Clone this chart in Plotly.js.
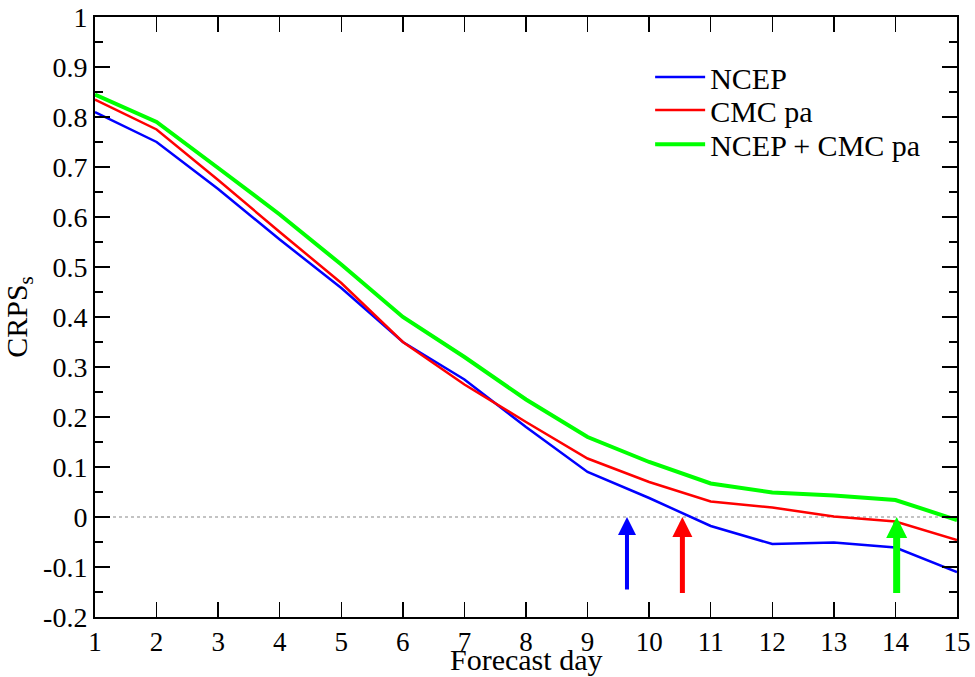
<!DOCTYPE html>
<html>
<head>
<meta charset="utf-8">
<script src="https://cdn.plot.ly/plotly-3.0.1.min.js"></script>
<style>html,body{margin:0;padding:0;background:#fff;}#chart{width:975px;height:677px;}</style>
</head>
<body>
<div id="chart"></div>
<script>
const days = [1,2,3,4,5,6,7,8,9,10,11,12,13,14,15];
const ncep = [0.81,0.75,0.656,0.555,0.458,0.35,0.275,0.18,0.09,0.038,-0.018,-0.054,-0.051,-0.061,-0.11];
const cmc = [0.835,0.775,0.674,0.57,0.468,0.35,0.265,0.19,0.117,0.07,0.031,0.019,0.001,-0.009,-0.046];
const combo = [0.845,0.79,0.698,0.605,0.505,0.40,0.32,0.235,0.16,0.11,0.067,0.049,0.043,0.034,-0.006];
const seriesNames = ['NCEP','CMC pa','NCEP + CMC pa'];
const arrowDays = [9.64, 10.54, 14.02];
const arrowBottom = [-0.148, -0.155, -0.155];
const yTickVals = [-0.2,-0.1,0,0.1,0.2,0.3,0.4,0.5,0.6,0.7,0.8,0.9,1];
const yTickText = ['-0.2','-0.1','0','0.1','0.2','0.3','0.4','0.5','0.6','0.7','0.8','0.9','1'];

const colors = ['#0000ff','#ff0000','#00ff00'];
const widths = [2.5,2.5,4];
const arrowWidths = [4,5,7];
const arrowSizes = [0.9,0.8,0.6];
const vals = [ncep, cmc, combo];
const legendIds = ['legend','legend2','legend3'];
const legendY = [0.9, 0.845, 0.788];

const FONT = 'Liberation Serif';
const traces = vals.map((v,i)=>({
  x: days, y: v, type:'scatter', mode:'lines', name: seriesNames[i],
  line:{color:colors[i], width:widths[i]}, legend: legendIds[i]
}));

const annotations = arrowDays.map((d,i)=>({
  x: d, y: 0, ax: d, ay: arrowBottom[i], xref:'x', yref:'y', axref:'x', ayref:'y',
  text:'', showarrow:true, arrowhead:2, arrowsize:arrowSizes[i], arrowwidth:arrowWidths[i],
  arrowcolor:colors[i], standoff:0, startstandoff:0
}));
annotations.push({text:'Forecast day', xref:'paper', yref:'paper', x:0.5, y:-0.1,
  xanchor:'center', yanchor:'bottom', showarrow:false, borderpad:0,
  font:{family:FONT, size:30, color:'#000'}});

const layout = {
  width:975, height:677,
  margin:{l:95, r:18, t:17, b:60},
  paper_bgcolor:'#fff', plot_bgcolor:'#fff',
  font:{family:FONT, color:'#000'},
  showlegend:true,
  xaxis:{range:[1,15], tickmode:'array', tickvals:days, ticktext:days.map(String),
    ticks:'inside', ticklen:15, tickwidth:1.5, tickcolor:'#000',
    showline:true, linecolor:'#000', linewidth:2, mirror:'ticks', showgrid:false, zeroline:false,
    tickfont:{family:FONT, size:27, color:'#000'}},
  yaxis:{range:[-0.2,1], tickmode:'array', tickvals:yTickVals, ticktext:yTickText,
    ticks:'inside', ticklen:15, tickwidth:1.5, tickcolor:'#000',
    minor:{dtick:0.05, ticks:'inside', ticklen:8, tickwidth:1.5, tickcolor:'#000', showgrid:false},
    showline:true, linecolor:'#000', linewidth:2, mirror:'ticks', showgrid:false, zeroline:false,
    tickfont:{family:FONT, size:28, color:'#000'},
    title:{text:'CRPS<sub>s</sub>', font:{family:FONT, size:30, color:'#000'}, standoff:8}},
  shapes:[{type:'line', xref:'x', yref:'y', x0:1, x1:15, y0:0, y1:0,
    line:{color:'#888', width:1.2, dash:'dot'}, layer:'below'}],
  annotations: annotations
};
legendIds.forEach((id,i)=>{
  layout[id] = {x:0.644, y:legendY[i], xanchor:'left', yanchor:'middle', bgcolor:'rgba(0,0,0,0)',
    itemwidth:50, font:{family:FONT, size:30, color:'#000'}};
});
Plotly.newPlot('chart', traces, layout, {displayModeBar:false, staticPlot:true});
</script>
</body>
</html>
